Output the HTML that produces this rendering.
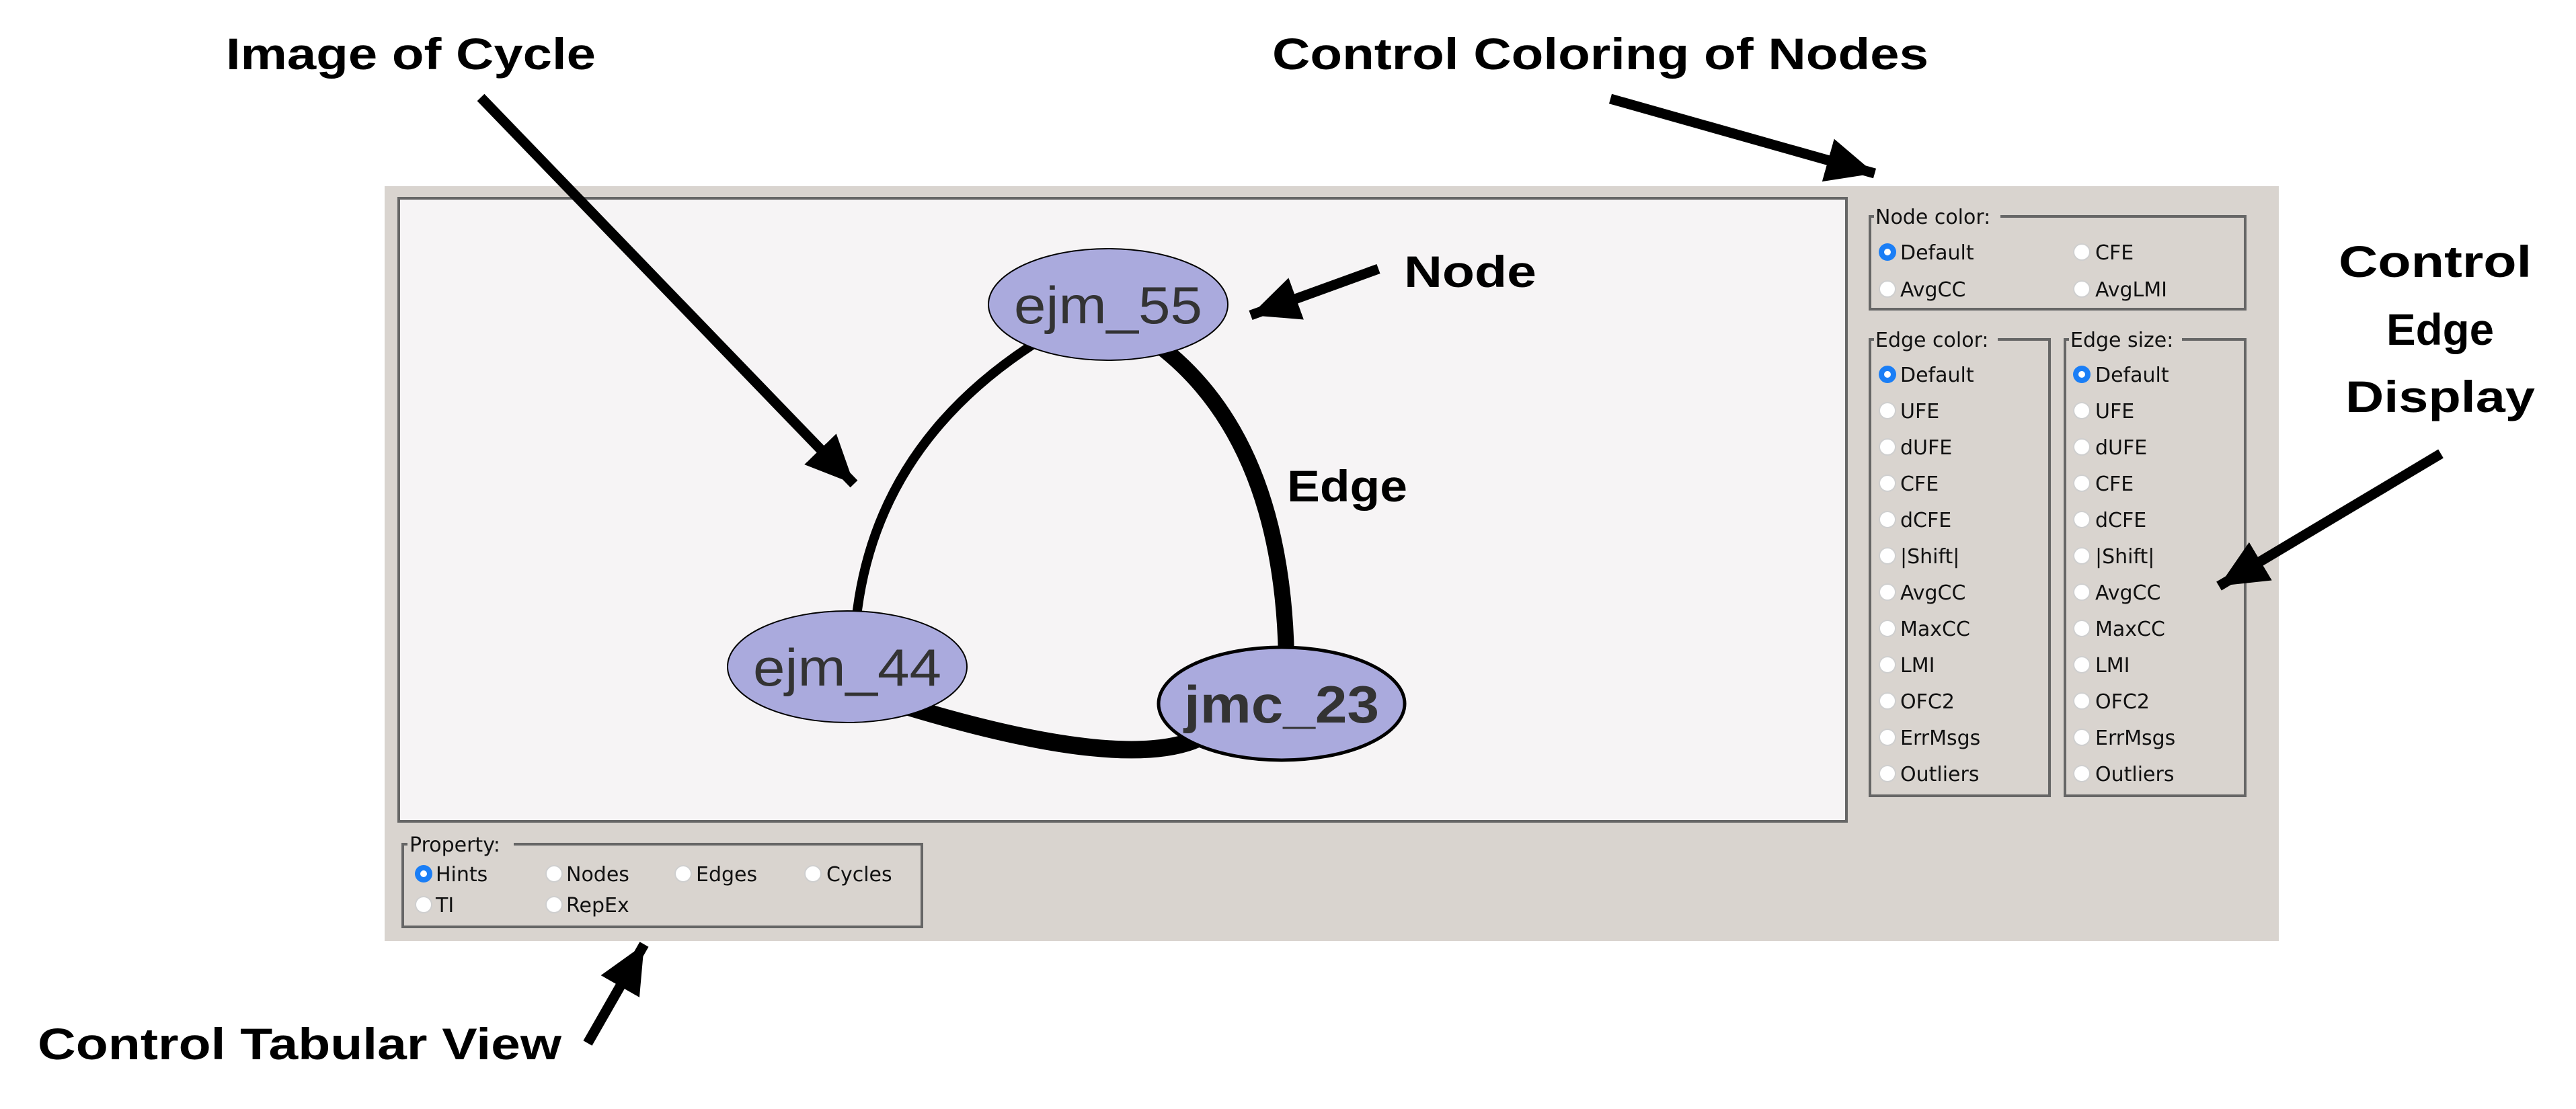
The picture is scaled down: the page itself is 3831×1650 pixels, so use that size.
<!DOCTYPE html>
<html><head><meta charset="utf-8"><style>
html,body{margin:0;padding:0;background:#fff;width:3831px;height:1650px;overflow:hidden}
svg{display:block}
.ann{font-family:"Liberation Sans",sans-serif;font-weight:bold;font-size:66px;fill:#000}
.lg{font-family:"DejaVu Sans",sans-serif;font-size:30px;fill:#111}
.nl{font-family:"Liberation Sans",sans-serif;font-size:78px;fill:#333}
</style></head><body>
<svg width="3831" height="1650" viewBox="0 0 3831 1650" xmlns="http://www.w3.org/2000/svg">
<defs>
<marker id="ah" markerUnits="userSpaceOnUse" markerWidth="80" markerHeight="70" refX="72" refY="33" orient="auto">
<path d="M0,0 L72,33 L0,66 Z" fill="#000"/>
</marker>
<g id="r"><circle r="12" fill="#fff" stroke="#cfcfcf" stroke-width="2"/></g>
<g id="rs"><circle r="13" fill="#1a7ef6"/><circle r="5" fill="#fff"/></g>
</defs>

<rect x="572" y="277" width="2817" height="1123" fill="#d9d4cf"/>
<rect x="593" y="295" width="2153" height="927" fill="#f6f4f5" stroke="#666" stroke-width="4"/>

<path d="M1548,505 Q1300,660 1273,925" fill="none" stroke="#000" stroke-width="14"/>
<path d="M1725,515 Q1906,655 1913,975" fill="none" stroke="#000" stroke-width="24"/>
<path d="M1345,1050 Q1681,1152 1790,1095" fill="none" stroke="#000" stroke-width="26"/>

<ellipse cx="1648" cy="453" rx="178" ry="83" fill="#aaaadd" stroke="#000" stroke-width="2"/>
<text class="nl" x="1648" y="481" text-anchor="middle" textLength="280" lengthAdjust="spacingAndGlyphs">ejm_55</text>
<ellipse cx="1260" cy="992" rx="178" ry="83" fill="#aaaadd" stroke="#000" stroke-width="2"/>
<text class="nl" x="1260" y="1020" text-anchor="middle" textLength="280" lengthAdjust="spacingAndGlyphs">ejm_44</text>
<ellipse cx="1906" cy="1047" rx="183" ry="84" fill="#aaaadd" stroke="#000" stroke-width="5"/>
<text class="nl" x="1906" y="1075" text-anchor="middle" font-weight="bold" textLength="290" lengthAdjust="spacingAndGlyphs">jmc_23</text>

<rect x="2781" y="322" width="558" height="138" fill="none" stroke="#666" stroke-width="4"/>
<rect x="2787" y="305" width="188" height="34" fill="#d9d4cf"/>
<text class="lg" x="2789" y="333">Node color:</text>
<use href="#rs" x="2807" y="375"/><text class="lg" x="2826" y="386">Default</text>
<use href="#r" x="2807" y="430"/><text class="lg" x="2826" y="441">AvgCC</text>
<use href="#r" x="3096" y="375"/><text class="lg" x="3116" y="386">CFE</text>
<use href="#r" x="3096" y="430"/><text class="lg" x="3116" y="441">AvgLMI</text>

<rect x="2781" y="505" width="267" height="679" fill="none" stroke="#666" stroke-width="4"/>
<rect x="2787" y="488" width="184" height="34" fill="#d9d4cf"/>
<text class="lg" x="2789" y="516">Edge color:</text>
<rect x="3071" y="505" width="268" height="679" fill="none" stroke="#666" stroke-width="4"/>
<rect x="3077" y="488" width="168" height="34" fill="#d9d4cf"/>
<text class="lg" x="3079" y="516">Edge size:</text>

<g>
<use href="#rs" x="2807" y="557"/><text class="lg" x="2826" y="568">Default</text>
<use href="#r" x="2807" y="611"/><text class="lg" x="2826" y="622">UFE</text>
<use href="#r" x="2807" y="665"/><text class="lg" x="2826" y="676">dUFE</text>
<use href="#r" x="2807" y="719"/><text class="lg" x="2826" y="730">CFE</text>
<use href="#r" x="2807" y="773"/><text class="lg" x="2826" y="784">dCFE</text>
<use href="#r" x="2807" y="827"/><text class="lg" x="2826" y="838">|Shift|</text>
<use href="#r" x="2807" y="881"/><text class="lg" x="2826" y="892">AvgCC</text>
<use href="#r" x="2807" y="935"/><text class="lg" x="2826" y="946">MaxCC</text>
<use href="#r" x="2807" y="989"/><text class="lg" x="2826" y="1000">LMI</text>
<use href="#r" x="2807" y="1043"/><text class="lg" x="2826" y="1054">OFC2</text>
<use href="#r" x="2807" y="1097"/><text class="lg" x="2826" y="1108">ErrMsgs</text>
<use href="#r" x="2807" y="1151"/><text class="lg" x="2826" y="1162">Outliers</text>
</g>
<g>
<use href="#rs" x="3096" y="557"/><text class="lg" x="3116" y="568">Default</text>
<use href="#r" x="3096" y="611"/><text class="lg" x="3116" y="622">UFE</text>
<use href="#r" x="3096" y="665"/><text class="lg" x="3116" y="676">dUFE</text>
<use href="#r" x="3096" y="719"/><text class="lg" x="3116" y="730">CFE</text>
<use href="#r" x="3096" y="773"/><text class="lg" x="3116" y="784">dCFE</text>
<use href="#r" x="3096" y="827"/><text class="lg" x="3116" y="838">|Shift|</text>
<use href="#r" x="3096" y="881"/><text class="lg" x="3116" y="892">AvgCC</text>
<use href="#r" x="3096" y="935"/><text class="lg" x="3116" y="946">MaxCC</text>
<use href="#r" x="3096" y="989"/><text class="lg" x="3116" y="1000">LMI</text>
<use href="#r" x="3096" y="1043"/><text class="lg" x="3116" y="1054">OFC2</text>
<use href="#r" x="3096" y="1097"/><text class="lg" x="3116" y="1108">ErrMsgs</text>
<use href="#r" x="3096" y="1151"/><text class="lg" x="3116" y="1162">Outliers</text>
</g>

<rect x="599" y="1256" width="772" height="123" fill="none" stroke="#666" stroke-width="4"/>
<rect x="606" y="1239" width="158" height="34" fill="#d9d4cf"/>
<text class="lg" x="609" y="1267">Property:</text>
<use href="#rs" x="630" y="1300"/><text class="lg" x="648" y="1311">Hints</text>
<use href="#r" x="824" y="1300"/><text class="lg" x="842" y="1311">Nodes</text>
<use href="#r" x="1016" y="1300"/><text class="lg" x="1035" y="1311">Edges</text>
<use href="#r" x="1209" y="1300"/><text class="lg" x="1229" y="1311">Cycles</text>
<use href="#r" x="630" y="1346"/><text class="lg" x="648" y="1357">TI</text>
<use href="#r" x="824" y="1346"/><text class="lg" x="842" y="1357">RepEx</text>

<g stroke="#000" stroke-width="15" fill="none" marker-end="url(#ah)">
<line x1="715" y1="145" x2="1270" y2="720"/>
<line x1="2395" y1="147" x2="2788" y2="258"/>
<line x1="2050" y1="400" x2="1860" y2="469"/>
<line x1="3630" y1="675" x2="3300" y2="872"/>
<line x1="874" y1="1552" x2="958" y2="1405"/>
</g>

<text class="ann" x="336" y="103" textLength="550" lengthAdjust="spacingAndGlyphs">Image of Cycle</text>
<text class="ann" x="1892" y="103" textLength="976" lengthAdjust="spacingAndGlyphs">Control Coloring of Nodes</text>
<text class="ann" x="2088" y="427" textLength="197" lengthAdjust="spacingAndGlyphs">Node</text>
<text class="ann" x="1914" y="746" textLength="179" lengthAdjust="spacingAndGlyphs">Edge</text>
<text class="ann" x="3478" y="412" textLength="287" lengthAdjust="spacingAndGlyphs">Control</text>
<text class="ann" x="3549" y="513" textLength="160" lengthAdjust="spacingAndGlyphs">Edge</text>
<text class="ann" x="3488" y="613" textLength="282" lengthAdjust="spacingAndGlyphs">Display</text>
<text class="ann" x="56" y="1576" textLength="779" lengthAdjust="spacingAndGlyphs">Control Tabular View</text>
</svg>
</body></html>
